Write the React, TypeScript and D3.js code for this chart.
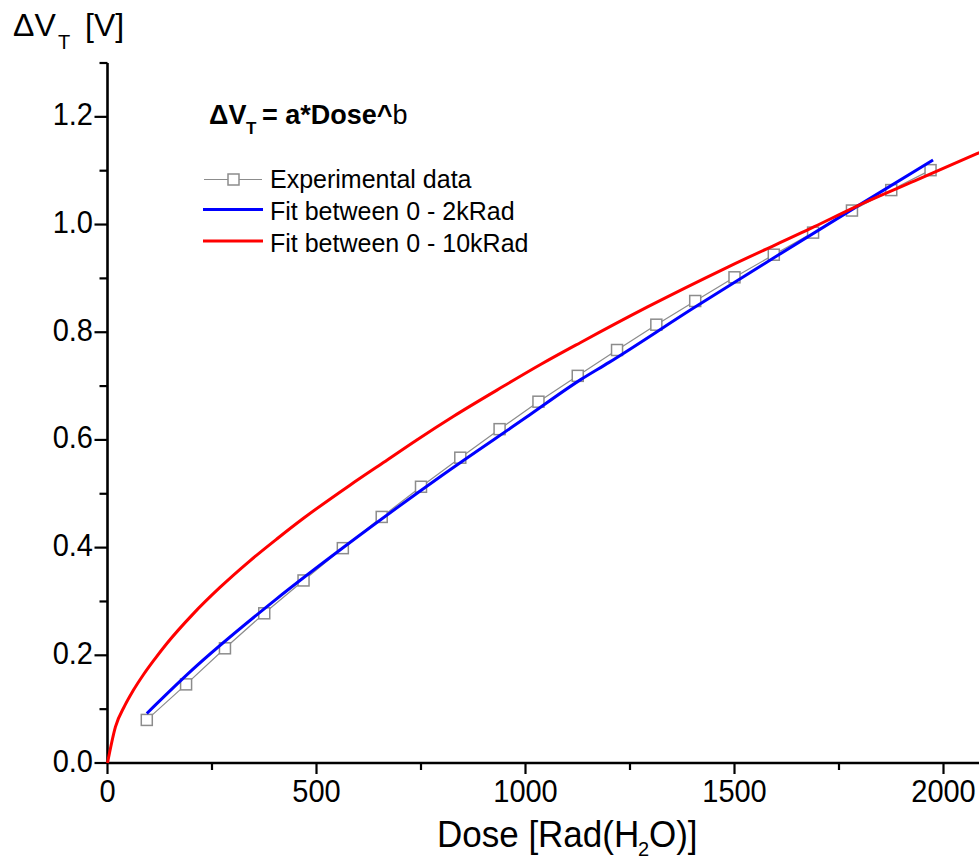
import React from "react";
import * as d3 from "d3";

const expDose = [94, 188, 281, 375, 469, 563, 656, 750, 844, 938, 1031, 1125, 1219, 1313, 1406, 1500, 1594, 1688, 1781, 1875, 1969];
const expDV = [0.080, 0.146, 0.213, 0.278, 0.339, 0.399, 0.457, 0.513, 0.567, 0.620, 0.671, 0.719, 0.767, 0.814, 0.858, 0.902, 0.944, 0.985, 1.026, 1.064, 1.101];

const fit2Dose = [94, 200, 400, 600, 800, 1000, 1132, 1200, 1400, 1600, 1800, 1975];
const fit2DV = [0.092, 0.171, 0.302, 0.421, 0.534, 0.641, 0.712, 0.744, 0.844, 0.941, 1.037, 1.120];

const fit10Dose = [0, 19, 41, 61, 85, 113, 141, 205, 269, 340, 405, 468, 580, 660, 740, 828, 948, 1036, 1132, 1292, 1484, 1691, 1787, 1931, 2090];
const fit10DV = [0, 0.067, 0.106, 0.134, 0.163, 0.193, 0.221, 0.277, 0.326, 0.375, 0.416, 0.454, 0.516, 0.558, 0.600, 0.644, 0.700, 0.740, 0.781, 0.847, 0.921, 0.996, 1.032, 1.081, 1.135];

const xMajor = [0, 500, 1000, 1500, 2000];
const xMinor = [250, 750, 1250, 1750, 2250];
const yMajor = [0, 0.2, 0.4, 0.6, 0.8, 1.0, 1.2];
const yMinor = [0.1, 0.3, 0.5, 0.7, 0.9, 1.1, 1.3];

const legendLabels = ["Experimental data", "Fit between 0 - 2kRad", "Fit between 0 - 10kRad"];

const FONT = "'Liberation Sans', Arial, Helvetica, sans-serif";

export default function App() {
  const W = 979, H = 861;
  const x = d3.scaleLinear().domain([0, 2100]).range([107.5, 107.5 + 2100 * 0.418]);
  const y = d3.scaleLinear().domain([0, 1.3]).range([763, 63]);
  const x0 = x(0), y0 = y(0);

  const line = d3.line<[number, number]>().x(d => x(d[0])).y(d => y(d[1]));
  const curve = d3.line<[number, number]>().x(d => x(d[0])).y(d => y(d[1])).curve(d3.curveMonotoneX);

  const expPts: [number, number][] = expDose.map((d, i) => [d, expDV[i]]);
  const fit2Pts: [number, number][] = fit2Dose.map((d, i) => [d, fit2DV[i]]);
  const fit10Pts: [number, number][] = fit10Dose.map((d, i) => [d, fit10DV[i]]);

  const sq = 11;

  return (
    <svg width={W} height={H} style={{ position: "absolute", left: 0, top: 0, background: "#fff" }} fontFamily={FONT}>
      <rect x={0} y={0} width={W} height={H} fill="#fff" />
      {/* axes */}
      <line x1={x0} x2={W} y1={y0} y2={y0} stroke="#000" strokeWidth={2.6} />
      <line x1={x0} x2={x0} y1={y(1.3)} y2={y0} stroke="#000" strokeWidth={2.6} />
      {xMajor.map(v => (
        <g key={"xm" + v}>
          <line x1={x(v)} x2={x(v)} y1={y0} y2={y0 + 11} stroke="#000" strokeWidth={2.2} />
          <text transform={`translate(${x(v)},802) scale(1,1.08)`} fontSize={29} textAnchor="middle">{v}</text>
        </g>
      ))}
      {xMinor.map(v => (
        <line key={"xn" + v} x1={x(v)} x2={x(v)} y1={y0} y2={y0 + 7} stroke="#000" strokeWidth={2.2} />
      ))}
      {yMajor.map(v => (
        <g key={"ym" + v}>
          <line x1={x0 - 13} x2={x0} y1={y(v)} y2={y(v)} stroke="#000" strokeWidth={2.2} />
          <text transform={`translate(93,${y(v) + 8.5}) scale(1,1.08)`} fontSize={29} textAnchor="end">{v.toFixed(1)}</text>
        </g>
      ))}
      {yMinor.map(v => (
        <line key={"yn" + v} x1={x0 - 8} x2={x0} y1={y(v)} y2={y(v)} stroke="#000" strokeWidth={2.2} />
      ))}

      {/* experimental data */}
      <path d={line(expPts) || ""} fill="none" stroke="#8c8c8c" strokeWidth={1.2} />
      {expPts.map((p, i) => (
        <rect key={"sq" + i} x={x(p[0]) - sq / 2} y={y(p[1]) - sq / 2} width={sq} height={sq} fill="#fff" stroke="#8c8c8c" strokeWidth={1.5} />
      ))}
      {/* fits */}
      <path d={curve(fit2Pts) || ""} fill="none" stroke="#0000ff" strokeWidth={3} />
      <path d={curve(fit10Pts) || ""} fill="none" stroke="#ff0000" strokeWidth={3} />

      {/* axis titles */}
      <text x={13} y={36} fontSize={32}>ΔV</text>
      <text x={58} y={49} fontSize={20}>T</text>
      <text x={85} y={36} fontSize={32}>[V]</text>

      <text transform="translate(437,847) scale(1,1.06)" fontSize={35}>Dose [Rad(H</text>
      <text x={638} y={856} fontSize={20}>2</text>
      <text transform="translate(649,847) scale(1,1.06)" fontSize={35}>O)]</text>

      {/* formula */}
      <text x={209} y={124} fontSize={27} fontWeight="bold">ΔV</text>
      <text x={246} y={134} fontSize={17} fontWeight="bold">T</text>
      <text x={262} y={124} fontSize={27} fontWeight="bold">
        = a*Dose^<tspan fontWeight="normal">b</tspan>
      </text>

      {/* legend */}
      <line x1={204} x2={262} y1={179.5} y2={179.5} stroke="#8c8c8c" strokeWidth={1.2} />
      <rect x={228} y={174} width={11} height={11} fill="#fff" stroke="#8c8c8c" strokeWidth={1.5} />
      <line x1={203} x2={263} y1={209.5} y2={209.5} stroke="#0000ff" strokeWidth={3} />
      <line x1={203} x2={263} y1={241} y2={241} stroke="#ff0000" strokeWidth={3} />
      {legendLabels.map((l, i) => (
        <text key={l} x={270} y={188 + i * 32} fontSize={25}>{l}</text>
      ))}
    </svg>
  );
}
